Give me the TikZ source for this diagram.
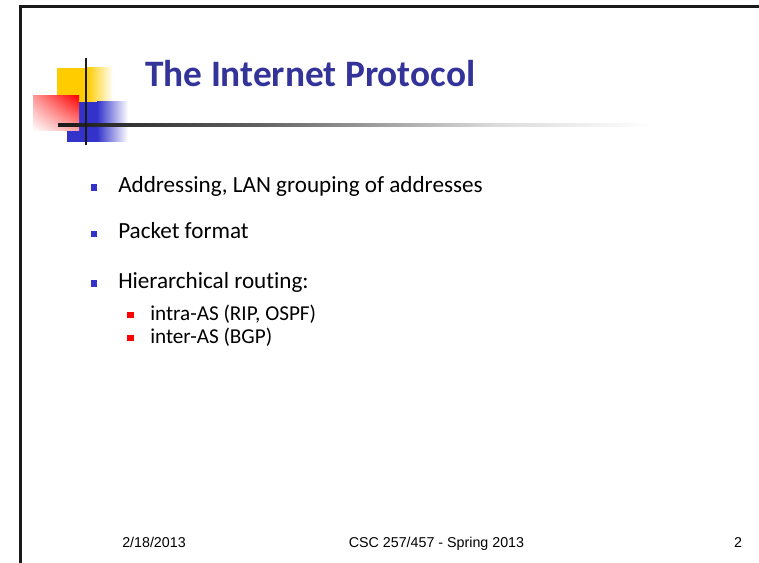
\documentclass[tikz,border=0pt]{standalone}
\usepackage{fontspec}
\usetikzlibrary{shadings}
\setmainfont{Carlito}[Ligatures={NoCommon}]
\newfontfamily\footfont{Liberation Sans}
\definecolor{titleblue}{HTML}{333399}
\definecolor{logoyellow}{HTML}{FFCC00}
\definecolor{logoblue}{HTML}{3333CC}
\definecolor{bulletblue}{HTML}{3333CC}
\definecolor{linegray}{HTML}{1A1A1A}
\pgfdeclarehorizontalshading{rulefade}{100bp}{color(0bp)=(linegray); color(25bp)=(linegray); color(40bp)=(black!62); color(58bp)=(black!14); color(70bp)=(white); color(100bp)=(white)}
\begin{document}
\begin{tikzpicture}[x=0.75pt,y=-0.75pt,
  bodytext/.style={anchor=base west, inner sep=0pt, font=\fontsize{17.35}{20}\selectfont},
  subtext/.style={anchor=base west, inner sep=0pt, font=\fontsize{15.9}{18}\selectfont},
  footertext/.style={anchor=base, inner sep=0pt, font=\footfont\fontsize{10.7}{12}\selectfont},
  bluesq/.style={fill=bulletblue, minimum width=4.9pt, minimum height=4.9pt, inner sep=0pt, draw=none},
  redsq/.style={fill=red, minimum width=4.7pt, minimum height=4.2pt, inner sep=0pt, draw=none}]
\useasboundingbox (0,0) rectangle (759,563);
\fill[white] (0,0) rectangle (759,563);
% slide border
\draw[linegray, line width=2.25pt] (20.3,563) -- (20.3,6.5) -- (759,6.5);
% logo
\fill[logoyellow] (57,68) rectangle (87,102);
\shade[left color=logoyellow, right color=white] (87,68) rectangle (113,102);
\fill[logoblue] (67,102) rectangle (97,142);
\shade[left color=logoblue, right color=white] (97,102) rectangle (128,142);
\shade[upper right=red, lower left=white, upper left=red!40!white, lower right=red!35!white] (33,96) rectangle (79,131);
\shade[shading=rulefade] (58,123.3) rectangle (720,126.7);
\draw[linegray, line width=2pt] (86,58) -- (86,145);
% title
\node[anchor=base west, inner sep=0pt, font=\fontsize{28}{30}\selectfont\bfseries, text=titleblue] (title) at (145,87) {The Internet Protocol};
% bullets
\node[bluesq] (b1) at (94.2,187.5) {};
\node[bodytext] (t1) at (118,192) {Addressing, LAN grouping of addresses};
\node[bluesq] (b2) at (94.2,234) {};
\node[bodytext] (t2) at (118,238.5) {Packet format};
\node[bluesq] (b3) at (94.2,283.5) {};
\node[bodytext] (t3) at (118,288) {Hierarchical routing:};
\node[redsq] (s1) at (130.5,314.8) {};
\node[subtext] (u1) at (150,320) {intra-AS (RIP, OSPF)};
\node[redsq] (s2) at (130.5,337.8) {};
\node[subtext] (u2) at (150,343) {inter-AS (BGP)};
% footer
\node[footertext, anchor=base west] (date) at (122,547) {2/18/2013};
\node[footertext] (course) at (436.5,547) {CSC 257/457 - Spring 2013};
\node[footertext] (page) at (738,547) {2};
\end{tikzpicture}
\end{document}
